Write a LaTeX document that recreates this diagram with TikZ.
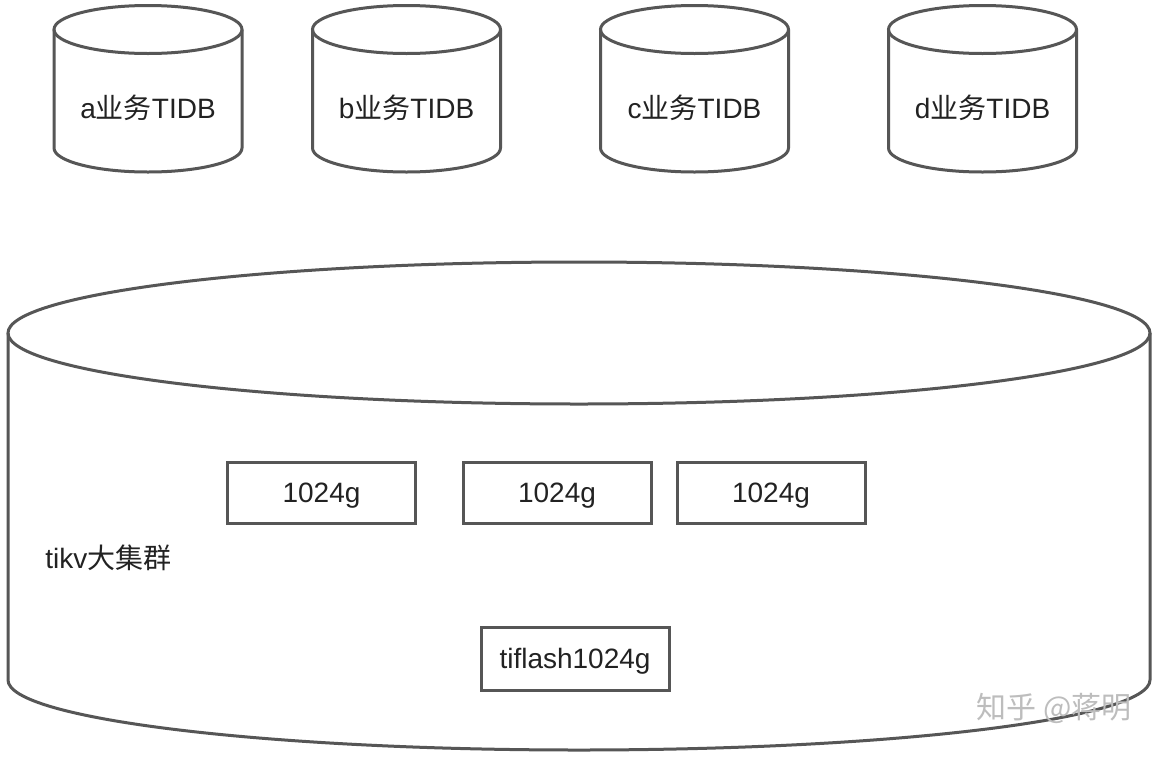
\documentclass[tikz,border=0pt]{standalone}
\usepackage{fontspec}
\setmainfont{Liberation Sans}
\newfontfamily\cjk{Noto Sans CJK SC}
\definecolor{edge}{HTML}{565656}
\definecolor{ink}{HTML}{222222}
\definecolor{wmark}{HTML}{BDBDBD}
\begin{document}
\begin{tikzpicture}[x=0.5pt,y=-0.5pt,
  shapeline/.style={draw=edge, line width=1.5pt},
  lbl/.style={font=\fontsize{14}{16}\selectfont, text=ink, inner sep=0pt},
  box/.style={draw=edge, line width=1.5pt, minimum width=94pt, minimum height=30.5pt,
              inner sep=0pt, text depth=0pt, font=\fontsize{14}{16}\selectfont, text=ink}]
\useasboundingbox[fill=white] (0,0) rectangle (1162,756);
% small TIDB cylinders
\foreach \cx/\nm in {148/a, 406.5/b, 694.5/c, 982.5/d} {
  \draw[shapeline] (\cx,29.5) ellipse [x radius=47pt, y radius=12pt];
  \draw[shapeline] (\cx-94,29.5) -- (\cx-94,148)
     arc[start angle=180, end angle=360, x radius=47pt, y radius=12pt] -- (\cx+94,29.5);
  \node[lbl, text depth=0pt] (db\nm) at (\cx,106.5) {\nm{\cjk 业务}TIDB};
}
% big tikv cylinder
\draw[shapeline] (579,333) ellipse [x radius=285.5pt, y radius=35.5pt];
\draw[shapeline] (8,333) -- (8,680)
   arc[start angle=180, end angle=360, x radius=285.5pt, y radius=35pt] -- (1150,333);
\node[lbl, anchor=west, text depth=0pt] (tikv) at (45,557) {tikv{\cjk 大集群}};
% storage boxes
\node[box] (s1) at (321.5,492.5) {1024g};
\node[box] (s2) at (557,492.5) {1024g};
\node[box] (s3) at (771,492.5) {1024g};
\node[box, minimum height=31.5pt] (tf) at (575,658.5) {tiflash1024g};
% watermark
\node[font=\cjk\fontsize{15}{17}\selectfont, text=wmark, inner sep=0pt] (wm) at (1054,708) {知乎 @蒋明};
\end{tikzpicture}
\end{document}
